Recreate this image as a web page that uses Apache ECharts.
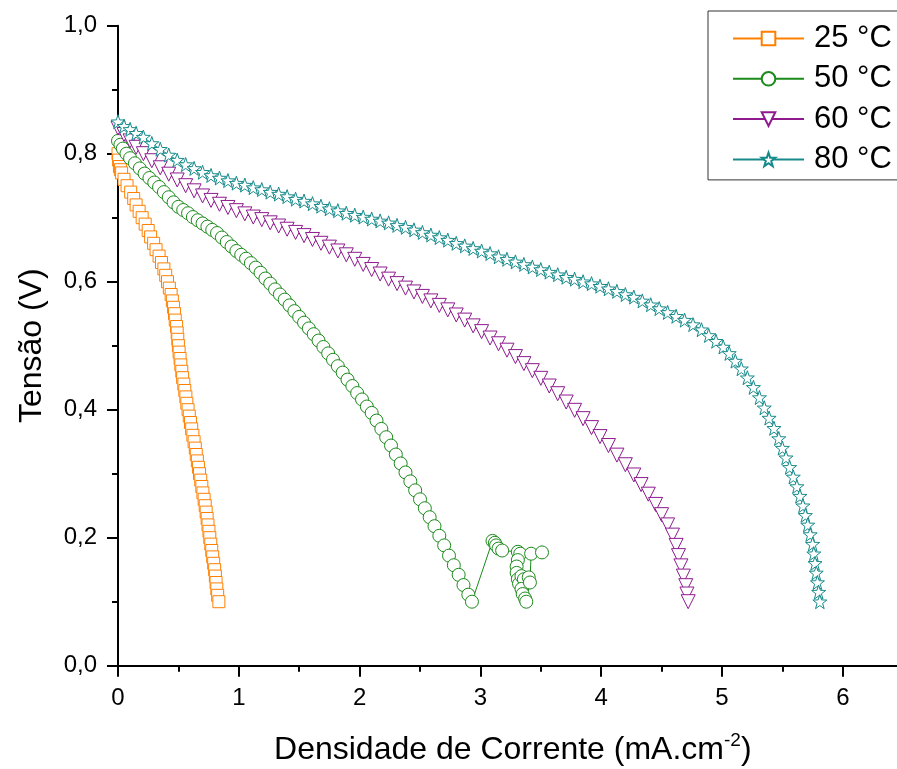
<!DOCTYPE html>
<html><head><meta charset="utf-8">
<script src="https://cdn.jsdelivr.net/npm/echarts@6/dist/echarts.min.js"></script>
<style>html,body{margin:0;padding:0;background:#fff}#c{width:897px;height:769px}</style>
</head><body><div id="c"></div>
<script>
const seriesNames = ['25 °C', '50 °C', '60 °C', '80 °C'];
const xTickLabels = [0, 1, 2, 3, 4, 5, 6];
const yTickLabels = ['0,0', '0,2', '0,4', '0,6', '0,8', '1,0'];

const data25 = [
[0.000,0.80],[0.005,0.79],[0.012,0.78],[0.02,0.775],[0.03,0.77],[0.05,0.76],[0.075,0.75],[0.105,0.74],[0.13,0.73],[0.15,0.72],
[0.175,0.71],[0.20,0.70],[0.225,0.69],[0.25,0.68],[0.27,0.67],[0.295,0.66],[0.315,0.65],[0.34,0.64],[0.36,0.63],[0.38,0.62],
[0.395,0.61],[0.41,0.60],[0.425,0.59],[0.44,0.58],[0.45,0.57],[0.46,0.56],[0.468,0.55],[0.474,0.54],[0.485,0.53],[0.49,0.52],
[0.495,0.51],[0.50,0.50],[0.506,0.49],[0.514,0.48],[0.52,0.47],[0.528,0.46],[0.535,0.45],[0.545,0.44],[0.553,0.43],[0.562,0.42],
[0.57,0.41],[0.58,0.40],[0.59,0.39],[0.60,0.38],[0.61,0.37],[0.62,0.36],[0.63,0.35],[0.64,0.34],[0.648,0.33],[0.657,0.32],
[0.666,0.31],[0.675,0.30],[0.685,0.29],[0.694,0.28],[0.703,0.27],[0.713,0.26],[0.722,0.25],[0.73,0.24],[0.738,0.23],[0.745,0.22],
[0.753,0.21],[0.76,0.20],[0.768,0.19],[0.776,0.18],[0.784,0.17],[0.792,0.16],[0.80,0.15],[0.806,0.14],[0.812,0.13],[0.818,0.12],
[0.825,0.11],[0.835,0.10]
];

const data50 = [
[0.00,0.820],[0.02,0.814],[0.04,0.808],[0.07,0.800],[0.10,0.793],[0.14,0.785],[0.18,0.777],[0.22,0.769],[0.26,0.762],[0.30,0.755],
[0.34,0.748],[0.38,0.740],[0.42,0.732],[0.46,0.724],[0.50,0.717],[0.54,0.712],[0.58,0.707],[0.62,0.701],[0.66,0.696],[0.70,0.691],
[0.74,0.686],[0.78,0.681],[0.82,0.676],[0.86,0.669],[0.90,0.662],[0.94,0.655],[0.98,0.648],[1.02,0.642],[1.06,0.636],[1.10,0.629],
[1.14,0.622],[1.18,0.614],[1.22,0.605],[1.26,0.597],[1.30,0.588],[1.34,0.580],[1.38,0.572],[1.42,0.563],[1.46,0.554],[1.50,0.545],
[1.54,0.536],[1.58,0.527],[1.62,0.518],[1.66,0.508],[1.70,0.498],[1.74,0.488],[1.78,0.478],[1.82,0.468],[1.86,0.458],[1.90,0.447],
[1.94,0.437],[1.98,0.426],[2.02,0.416],[2.06,0.405],[2.10,0.395],[2.14,0.383],[2.18,0.370],[2.22,0.357],[2.26,0.344],[2.30,0.330],
[2.34,0.316],[2.38,0.302],[2.42,0.288],[2.46,0.274],[2.50,0.260],[2.54,0.246],[2.58,0.232],[2.62,0.218],[2.66,0.203],[2.70,0.188],
[2.74,0.172],[2.78,0.157],[2.82,0.142],[2.86,0.126],[2.90,0.111],[2.93,0.100],
[3.10,0.195],[3.12,0.192],[3.13,0.188],[3.15,0.183],[3.18,0.180],[3.31,0.178],[3.33,0.175],[3.31,0.165],[3.30,0.155],[3.30,0.145],
[3.31,0.135],[3.32,0.128],[3.34,0.140],[3.36,0.135],[3.40,0.138],[3.34,0.120],[3.35,0.112],[3.37,0.105],[3.38,0.100],[3.41,0.130],
[3.42,0.175],[3.51,0.177]
];

const data60 = [
[0.00,0.840],[0.05,0.830],[0.10,0.820],[0.15,0.810],[0.21,0.800],[0.28,0.789],[0.35,0.778],[0.42,0.768],[0.49,0.759],[0.56,0.750],
[0.63,0.742],[0.70,0.734],[0.77,0.727],[0.84,0.721],[0.91,0.716],[0.98,0.711],[1.05,0.706],[1.12,0.701],[1.19,0.697],[1.26,0.692],
[1.33,0.687],[1.40,0.682],[1.47,0.677],[1.54,0.672],[1.61,0.666],[1.68,0.660],[1.75,0.654],[1.82,0.648],[1.89,0.642],[1.96,0.635],
[2.03,0.627],[2.10,0.619],[2.17,0.612],[2.24,0.604],[2.31,0.597],[2.38,0.590],[2.45,0.584],[2.52,0.577],[2.59,0.570],[2.66,0.563],
[2.73,0.556],[2.80,0.548],[2.87,0.540],[2.94,0.531],[3.01,0.522],[3.08,0.512],[3.15,0.503],[3.22,0.493],[3.29,0.483],[3.36,0.472],
[3.43,0.461],[3.50,0.449],[3.57,0.437],[3.64,0.425],[3.71,0.412],[3.78,0.399],[3.85,0.386],[3.92,0.372],[3.99,0.358],[4.06,0.344],
[4.13,0.329],[4.20,0.314],[4.27,0.298],[4.33,0.283],[4.39,0.268],[4.45,0.252],[4.50,0.236],[4.55,0.220],[4.59,0.204],[4.62,0.188],
[4.64,0.172],[4.66,0.156],[4.68,0.140],[4.70,0.125],[4.71,0.112],[4.72,0.100]
];

const data80 = [
[0.00,0.850],[0.05,0.843],[0.10,0.838],[0.15,0.832],[0.21,0.826],[0.28,0.816],[0.35,0.807],[0.42,0.798],[0.49,0.790],[0.56,0.783],
[0.63,0.777],[0.70,0.771],[0.77,0.766],[0.84,0.762],[0.91,0.758],[0.98,0.754],[1.05,0.751],[1.12,0.747],[1.19,0.744],[1.26,0.740],
[1.33,0.737],[1.40,0.733],[1.47,0.729],[1.54,0.726],[1.61,0.722],[1.68,0.718],[1.75,0.714],[1.82,0.711],[1.89,0.707],[1.96,0.704],
[2.03,0.701],[2.10,0.698],[2.17,0.695],[2.24,0.692],[2.31,0.688],[2.38,0.685],[2.45,0.681],[2.52,0.677],[2.59,0.673],[2.66,0.669],
[2.73,0.665],[2.80,0.660],[2.87,0.656],[2.94,0.652],[3.01,0.648],[3.08,0.644],[3.15,0.639],[3.22,0.635],[3.29,0.631],[3.36,0.627],
[3.43,0.623],[3.50,0.619],[3.57,0.615],[3.64,0.611],[3.71,0.607],[3.78,0.604],[3.85,0.600],[3.92,0.597],[3.99,0.593],[4.06,0.589],
[4.13,0.585],[4.20,0.580],[4.27,0.576],[4.34,0.570],[4.41,0.564],[4.48,0.558],[4.55,0.552],[4.62,0.546],[4.69,0.540],[4.76,0.533],
[4.83,0.525],[4.89,0.516],[4.95,0.507],[5.01,0.498],[5.06,0.488],[5.11,0.476],[5.16,0.464],[5.21,0.450],[5.26,0.435],[5.31,0.419],
[5.35,0.403],[5.39,0.387],[5.43,0.371],[5.47,0.355],[5.50,0.340],[5.53,0.325],[5.56,0.310],[5.59,0.295],[5.62,0.280],[5.645,0.265],
[5.67,0.250],[5.69,0.235],[5.71,0.220],[5.73,0.205],[5.75,0.190],[5.76,0.175],[5.77,0.160],[5.78,0.145],[5.79,0.130],[5.80,0.115],
[5.81,0.100]
];

const colors = ['#FF8000', '#1A8A1A', '#8E1A8E', '#168A8A'];
const STAR = 'path://M0,-10L2.35,-3.24L9.51,-3.09L3.8,1.24L5.88,8.09L0,4L-5.88,8.09L-3.8,1.24L-9.51,-3.09L-2.35,-3.24Z';
const symbols = ['rect', 'circle', 'triangle', STAR];
const rotations = [0, 0, 180, 0];
const sizes = [12, 13, 14, 14];
const allData = [data25, data50, data60, data80];
const FONT = '"Liberation Sans", Arial, sans-serif';

const chart = echarts.init(document.getElementById('c'), null, {renderer: 'canvas'});
chart.setOption({
  animation: false,
  backgroundColor: '#fff',
  grid: {left: 118, top: 25.7, width: 845.6, bottom: 103.3, containLabel: false, outerBoundsMode: 'none'},
  legend: {
    left: 708, top: 11,
    orient: 'vertical',
    data: seriesNames,
    itemWidth: 71, itemHeight: 17, itemGap: 9.3,
    padding: [12, 20, 5, 24],
    borderColor: '#333', borderWidth: 1,
    backgroundColor: '#fff',
    textStyle: {fontFamily: FONT, fontSize: 31, color: '#000', lineHeight: 30, padding: [0, 0, 0, 5]}
  },
  xAxis: {
    type: 'value', min: 0, max: 7, interval: 1,
    name: 'Densidade de Corrente (mA.cm{sup|-2})',
    nameLocation: 'middle', nameGap: 66,
    nameTextStyle: {fontFamily: FONT, fontSize: 32, color: '#000', lineHeight: 36, padding: [0, 56, 0, 0],
      rich: {sup: {fontFamily: FONT, fontSize: 19, color: '#000', lineHeight: 18, verticalAlign: 'top'}}},
    axisLine: {onZero: false, lineStyle: {color: '#000', width: 2}},
    axisTick: {inside: false, length: 11, lineStyle: {color: '#000', width: 2}},
    minorTick: {show: true, splitNumber: 2, length: 6, lineStyle: {color: '#000', width: 2}},
    splitLine: {show: false},
    axisLabel: {fontFamily: FONT, fontSize: 24, color: '#000', margin: 21,
      formatter: v => (xTickLabels.indexOf(v) >= 0 ? String(v) : '')}
  },
  yAxis: {
    type: 'value', min: 0, max: 1, interval: 0.2,
    name: 'Tensão (V)', nameLocation: 'middle', nameGap: 68, nameRotate: 90,
    nameTextStyle: {fontFamily: FONT, fontSize: 32, color: '#000', lineHeight: 36},
    axisLine: {onZero: false, lineStyle: {color: '#000', width: 2}},
    axisTick: {inside: false, length: 11, lineStyle: {color: '#000', width: 2}},
    minorTick: {show: true, splitNumber: 2, length: 6, lineStyle: {color: '#000', width: 2}},
    splitLine: {show: false},
    axisLabel: {fontFamily: FONT, fontSize: 24, color: '#000', margin: 21,
      formatter: v => yTickLabels[Math.round(v / 0.2)] || ''}
  },
  series: allData.map((d, i) => ({
    name: seriesNames[i],
    type: 'line',
    data: d,
    symbol: symbols[i],
    symbolRotate: rotations[i],
    symbolSize: sizes[i],
    showSymbol: true,
    lineStyle: {color: colors[i], width: 1},
    itemStyle: {color: '#fff', borderColor: colors[i], borderWidth: 1},
    emphasis: {disabled: true}
  }))
});
</script></body></html>
